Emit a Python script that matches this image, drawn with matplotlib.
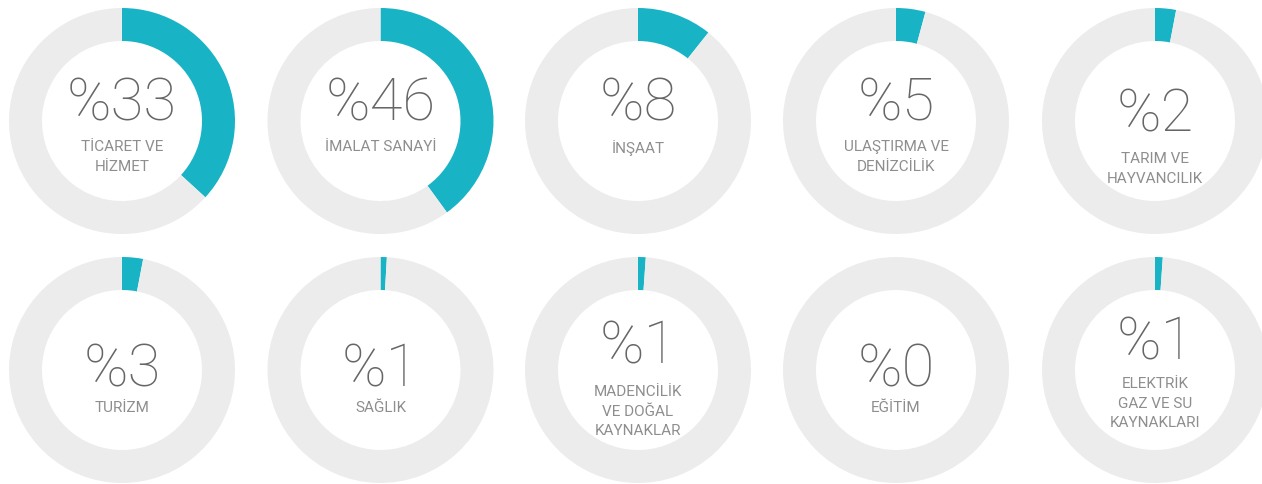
import matplotlib
matplotlib.use("Agg")
import matplotlib.pyplot as plt

# Data
percent_labels = ["%33", "%46", "%8", "%5", "%2", "%3", "%1", "%1", "%0", "%1"]
sector_names = [
    "TİCARET VE\nHİZMET",
    "İMALAT SANAYİ",
    "İNŞAAT",
    "ULAŞTIRMA VE\nDENİZCİLİK",
    "TARIM VE\nHAYVANCILIK",
    "TURİZM",
    "SAĞLIK",
    "MADENCİLİK\nVE DOĞAL\nKAYNAKLAR",
    "EĞİTİM",
    "ELEKTRİK\nGAZ VE SU\nKAYNAKLARI",
]
# arc share drawn in each ring
arc_values = [36.8, 40.0, 10.7, 4.2, 3.0, 3.0, 0.9, 1.1, 0.0, 1.1]

# Layout (pixels)
W, H = 1262, 485
col_x = [122, 380.5, 638, 896, 1155]
row_y = [122, 371]
R = 113.0
RING = 33.0
# vertical offsets (px, downward positive) of number centre / first label line top
num_off = [-18, -18, -18, -18, -7, -1, -1, -24, -1, -28]
lab_off = [18, 18, 18, 18, 30, 30, 30, 14, 30, 6]

TEAL = "#19b3c6"
GRAY = "#ececec"
NUM_C = "#666666"
LAB_C = "#8e8e8e"

fig = plt.figure(figsize=(W / 100, H / 100), dpi=100)
fig.patch.set_facecolor("white")

for i in range(10):
    r, c = divmod(i, 5)
    cx, cy = col_x[c], row_y[r]
    ax = fig.add_axes([(cx - R) / W, 1 - (cy + R) / H, 2 * R / W, 2 * R / H])
    v = arc_values[i]
    ax.pie([v, 100 - v], colors=[TEAL, GRAY], startangle=90, counterclock=False,
           radius=1.0, wedgeprops=dict(width=RING / R, linewidth=0))
    ax.set_xlim(-1, 1)
    ax.set_ylim(-1, 1)
    ax.set_aspect("equal")
    ax.axis("off")
    ax.text(0, -num_off[i] / R, percent_labels[i], ha="center", va="center",
            fontsize=43, color=NUM_C, family="Roboto", fontweight="light")
    ax.text(0, -lab_off[i] / R, sector_names[i], ha="center", va="top",
            fontsize=11, color=LAB_C, family="Roboto", fontweight="normal",
            linespacing=1.52)

fig.savefig("out.png", dpi=100, facecolor="white")
